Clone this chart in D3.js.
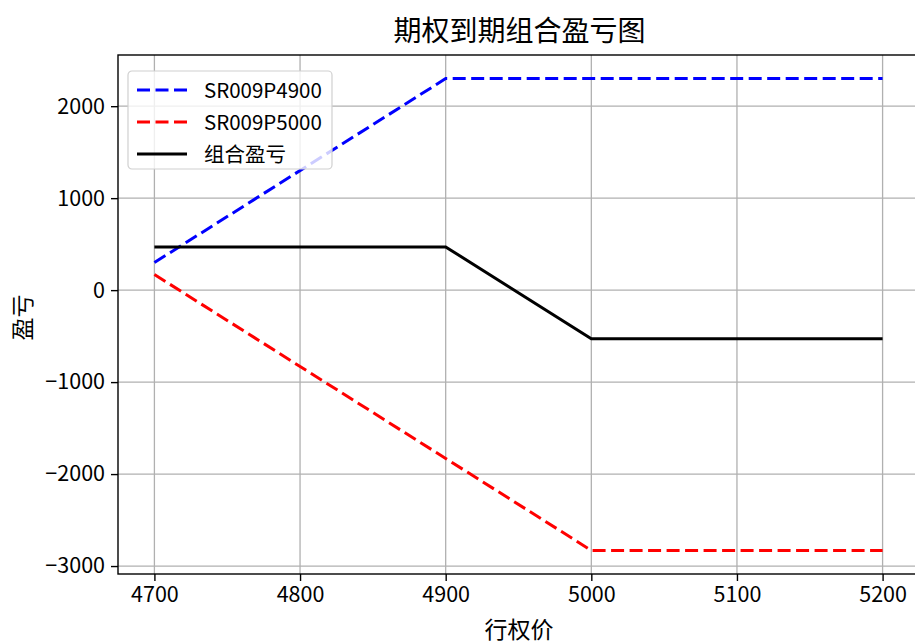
<!DOCTYPE html>
<html>
<head>
<meta charset="utf-8">
<script src="https://cdn.jsdelivr.net/npm/d3@7"></script>
<style>
  body { margin: 0; background: #fff; overflow: hidden; }
  text { font-family: "Noto Sans CJK SC", sans-serif; fill: #000; }
</style>
</head>
<body>
<svg id="chart" width="915" height="642"></svg>
<script>
// strike prices (x) and payoff at expiry for each leg
const strikes = [4700, 4900, 5000, 5200];
const putShort4900 = [300, 2300, 2300, 2300];
const putLong5000 = [170, -1830, -2830, -2830];
const combined = [470, 470, -530, -530];
const xTicks = [4700, 4800, 4900, 5000, 5100, 5200];
const yTicks = [-3000, -2000, -1000, 0, 1000, 2000];
const seriesNames = ['SR009P4900', 'SR009P5000', '组合盈亏'];

// the right edge of the axes sits just past the window, as in the original screenshot
const margin = { top: 55, left: 118 },
  innerW = 801,
  innerH = 519;

const svg = d3.select('#chart');
const g = svg.append('g').attr('transform', `translate(${margin.left}, ${margin.top})`);

const xScale = d3.scaleLinear().domain([4675, 5225]).range([0, innerW]);
const yScale = d3.scaleLinear().domain([-3086.5, 2556.5]).range([innerH, 0]);

// grid
g.append('g').selectAll('line').data(xTicks).join('line')
  .attr('x1', d => xScale(d)).attr('x2', d => xScale(d))
  .attr('y1', 0).attr('y2', innerH)
  .attr('stroke', '#b0b0b0').attr('stroke-width', 1.3);
g.append('g').selectAll('line').data(yTicks).join('line')
  .attr('y1', d => yScale(d)).attr('y2', d => yScale(d))
  .attr('x1', 0).attr('x2', innerW)
  .attr('stroke', '#b0b0b0').attr('stroke-width', 1.3);

const series = [
  { name: seriesNames[0], values: putShort4900, color: '#0000ff', dash: '13,5.5' },
  { name: seriesNames[1], values: putLong5000, color: '#ff0000', dash: '13,5.5' },
  { name: seriesNames[2], values: combined, color: '#000000', dash: null }
];

const lineGen = d3.line()
  .x((d, i) => xScale(strikes[i]))
  .y(d => yScale(d));

g.selectAll('.series').data(series).join('path')
  .attr('class', 'series')
  .attr('d', d => lineGen(d.values))
  .attr('fill', 'none')
  .attr('stroke', d => d.color)
  .attr('stroke-width', 3)
  .attr('stroke-dasharray', d => d.dash);

// axes
const xAxis = g.append('g').attr('transform', `translate(0, ${innerH})`)
  .call(d3.axisBottom(xScale).tickValues(xTicks).tickSize(7).tickPadding(6).tickFormat(d3.format('d')));
const yAxis = g.append('g')
  .call(d3.axisLeft(yScale).tickValues(yTicks).tickSize(7).tickPadding(6).tickFormat(d => d < 0 ? '\u2212' + Math.abs(d) : d));
[xAxis, yAxis].forEach(a => {
  a.select('.domain').remove();
  a.selectAll('line').attr('stroke', '#000').attr('stroke-width', 1.4);
  a.selectAll('text').style('font-size', '21.5px').attr('fill', '#000');
});

// frame
g.append('rect').attr('width', innerW).attr('height', innerH)
  .attr('fill', 'none').attr('stroke', '#000').attr('stroke-width', 1.4);

// title & labels
svg.append('text').attr('x', margin.left + innerW / 2 + 1).attr('y', 41)
  .attr('text-anchor', 'middle').style('font-size', '28px').text('期权到期组合盈亏图');
svg.append('text').attr('x', 519).attr('y', 638)
  .attr('text-anchor', 'middle').style('font-size', '23px').text('行权价');
svg.append('text').attr('transform', `translate(31, ${margin.top + innerH / 2 + 3}) rotate(-90)`)
  .attr('text-anchor', 'middle').style('font-size', '23px').text('盈亏');

// legend
const legend = svg.append('g').attr('transform', 'translate(128, 71)');
legend.append('rect').attr('width', 204).attr('height', 98).attr('rx', 4)
  .attr('fill', 'rgba(255,255,255,0.8)').attr('stroke', '#d0d0d0').attr('stroke-width', 1.2);
const items = legend.selectAll('.legend-item').data(series).join('g')
  .attr('class', 'legend-item')
  .attr('transform', (d, i) => `translate(0, ${19 + i * 32})`);
items.append('line').attr('x1', 9).attr('x2', 59)
  .attr('stroke', d => d.color).attr('stroke-width', 3)
  .attr('stroke-dasharray', d => d.dash);
items.append('text').attr('x', 76).attr('y', 8).style('font-size', '20.5px').text(d => d.name);
</script>
</body>
</html>
